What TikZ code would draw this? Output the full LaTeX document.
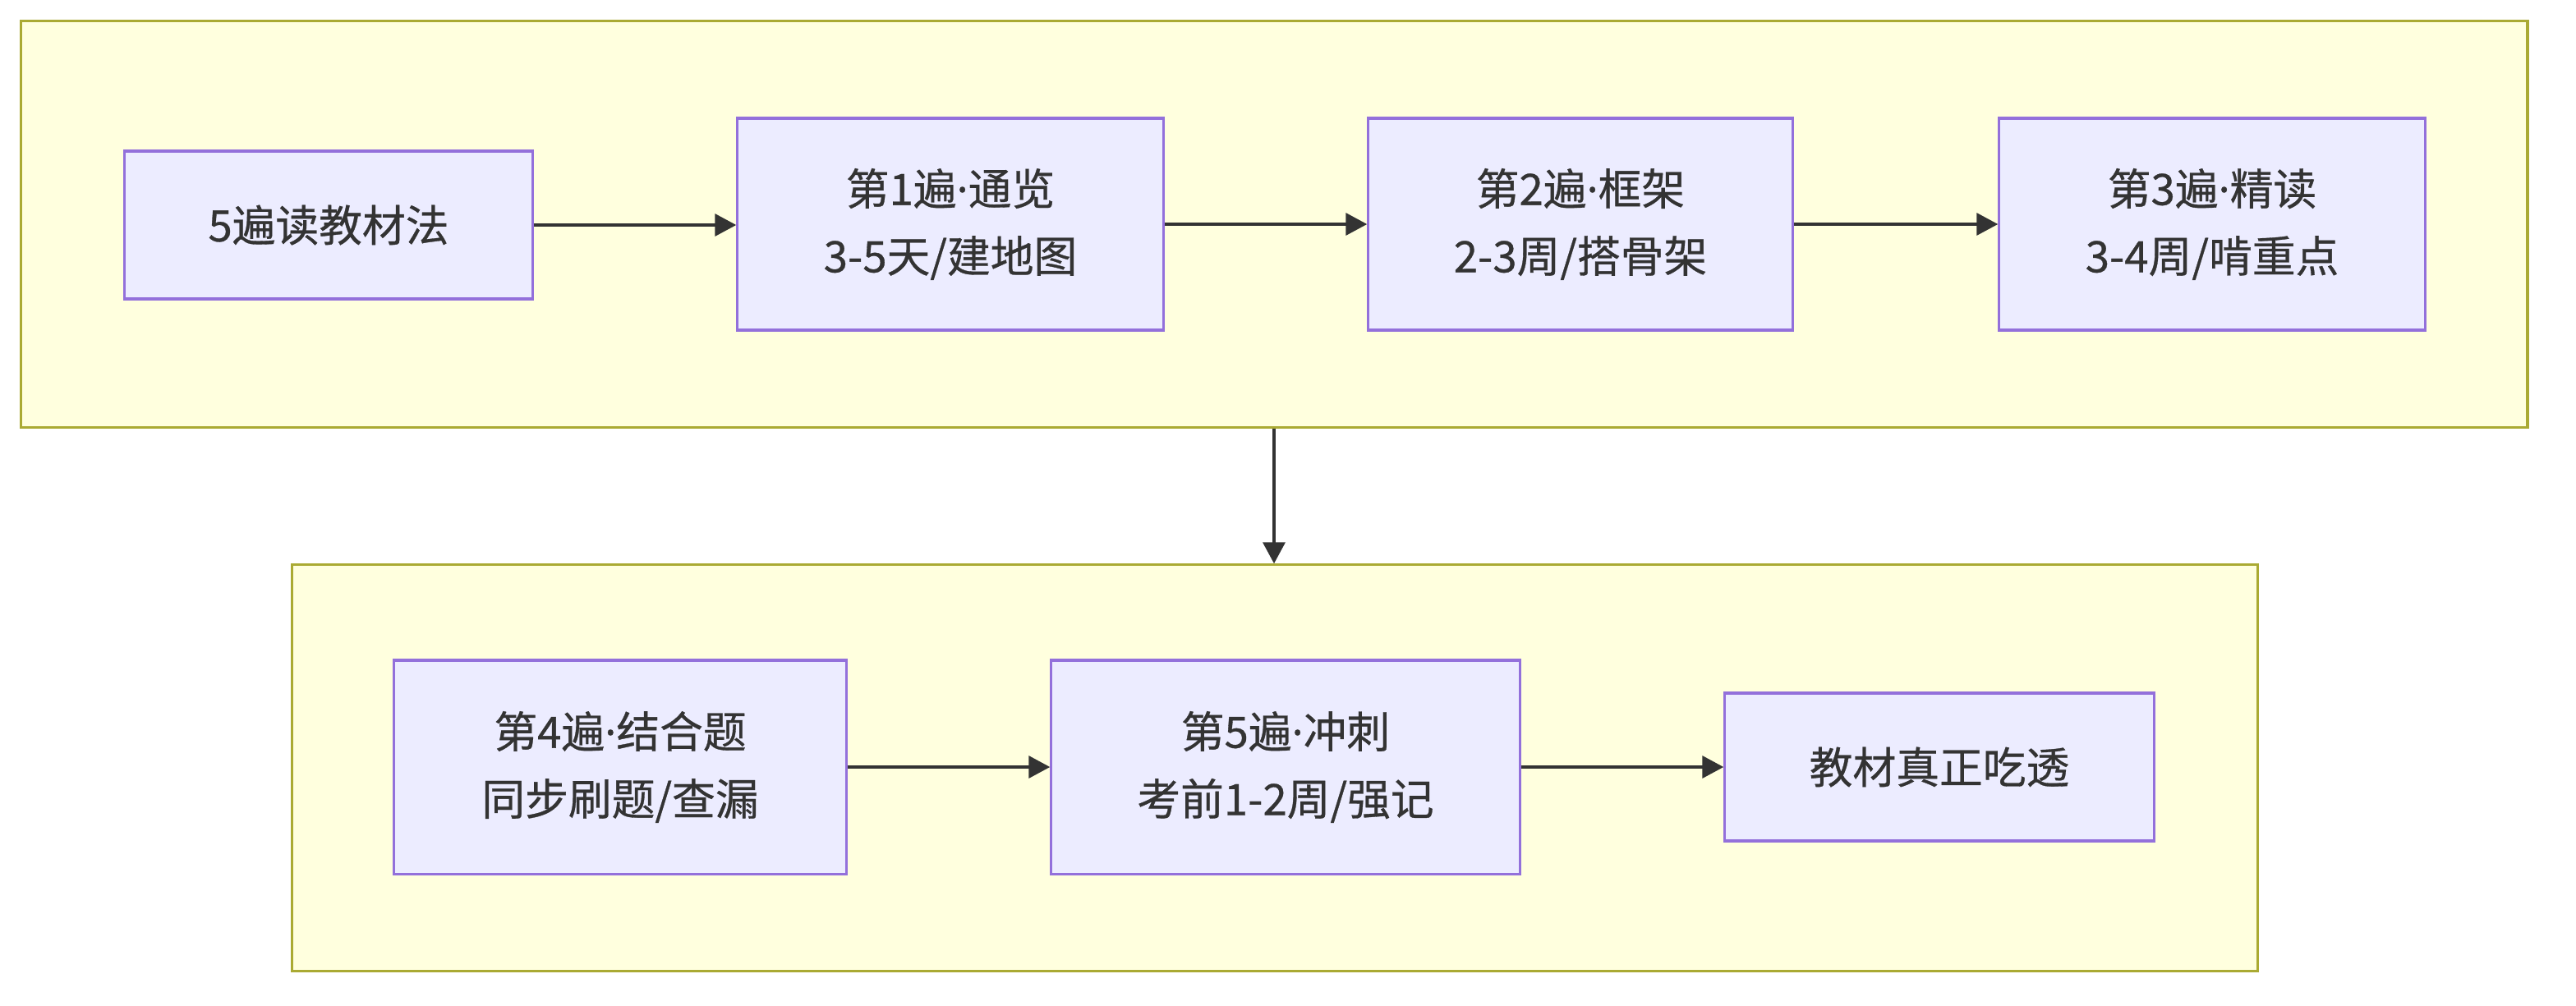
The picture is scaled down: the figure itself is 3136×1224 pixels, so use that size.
\documentclass[tikz,border=0pt]{standalone}
\usepackage{fontspec}
\setmainfont{Noto Sans CJK SC}[FakeBold=0.6]
\newfontfamily\latinf{Noto Sans}[FakeBold=0.6]
\newcommand{\mdot}{{\latinf ·}}
\usetikzlibrary{arrows.meta}
\definecolor{contfill}{HTML}{FFFFDE}
\definecolor{contdraw}{HTML}{AAAA33}
\definecolor{boxfill}{HTML}{ECECFF}
\definecolor{boxdraw}{HTML}{9370DB}
\definecolor{ink}{HTML}{333333}
\tikzset{
  container/.style={draw=contdraw, fill=contfill, line width=0.9pt, rectangle, inner sep=0pt},
  stepbox/.style={draw=boxdraw, fill=boxfill, line width=0.9pt, rectangle, inner sep=0pt,
    align=center, text=ink, font=\fontsize{15pt}{23.3pt}\selectfont},
  arr/.style={draw=ink, line width=1pt, -{Triangle[length=0.26cm,width=0.27cm]}}
}
\begin{document}
\begin{tikzpicture}[x=0.01cm,y=-0.01cm]
\useasboundingbox (0,0) rectangle (3136,1224);
\fill[white] (0,0) rectangle (3136,1224);
\node[container, minimum width=30.5cm, minimum height=4.94cm] (top) at (1551,273) {};
\node[container, minimum width=23.92cm, minimum height=4.94cm] (bot) at (1552,935) {};

\node[stepbox, minimum width=4.96cm, minimum height=1.8cm] (a) at (400,274) {5遍读教材法};
\node[stepbox, minimum width=5.18cm, minimum height=2.58cm] (b) at (1157,273) {第1遍\mdot 通览\\3-5天/建地图};
\node[stepbox, minimum width=5.16cm, minimum height=2.58cm] (c) at (1924,273) {第2遍\mdot 框架\\2-3周/搭骨架};
\node[stepbox, minimum width=5.18cm, minimum height=2.58cm] (d) at (2693,273) {第3遍\mdot 精读\\3-4周/啃重点};

\node[stepbox, minimum width=5.5cm, minimum height=2.6cm] (e) at (755,934) {第4遍\mdot 结合题\\同步刷题/查漏};
\node[stepbox, minimum width=5.7cm, minimum height=2.6cm] (f) at (1565,934) {第5遍\mdot 冲刺\\考前1-2周/强记};
\node[stepbox, minimum width=5.22cm, minimum height=1.8cm] (g) at (2361,934) {教材真正吃透};

\draw[arr] (a.east) -- (b.west |- a.east);
\draw[arr] (b) -- (c);
\draw[arr] (c) -- (d);
\draw[arr] (e) -- (f);
\draw[arr] (f) -- (g);
\draw[arr] (top.south) -- (top.south |- bot.north);
\end{tikzpicture}
\end{document}
